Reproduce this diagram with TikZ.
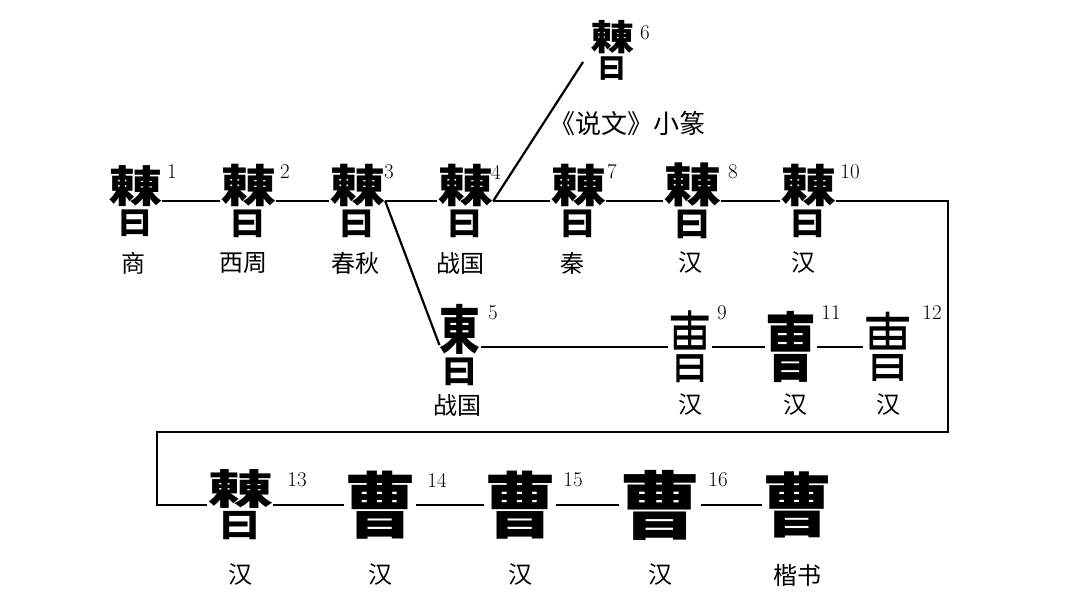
\documentclass[tikz,border=0pt]{standalone}
\usepackage{graphicx}
\usepackage{fontspec}
\newfontfamily\cjk{Noto Sans CJK SC}
\newcommand\twoeast[3]{\fontsize{#1}{#1}\selectfont\shortstack{\scalebox{1}[#2]{㯥}\\\scalebox{0.62}[#3]{曰}}}
\newcommand\oneeast[1]{\fontsize{#1}{#1}\selectfont\shortstack{\scalebox{0.85}[1.1]{東}\\\scalebox{0.72}[0.7]{曰}}}
\tikzset{
  glyph/.style={inner sep=0pt, font=\cjk},
  bglyph/.style={inner sep=0pt, font=\cjk\bfseries},
  num/.style={inner sep=0pt, font=\fontsize{21}{22}\selectfont},
  era/.style={inner sep=0pt, font=\cjk\fontsize{24}{26}\selectfont},
  link/.style={line width=2.2pt}
}
\begin{document}
\begin{tikzpicture}[x=1pt,y=-1pt]
\useasboundingbox (0,0) rectangle (1069,607);
\fill[white] (0,0) rectangle (1069,607);
% row 1
\node[bglyph] (g1) at (135,201) {\twoeast{54}{0.8}{0.6}};
\node[bglyph] (g2) at (248,201) {\twoeast{56}{0.8}{0.6}};
\node[bglyph] (g3) at (357,201) {\twoeast{56}{0.8}{0.6}};
\node[bglyph] (g4) at (465,201) {\twoeast{56}{0.8}{0.6}};
\node[bglyph] (g7) at (578,201) {\twoeast{56}{0.8}{0.6}};
\node[bglyph] (g8) at (692,201) {\twoeast{58}{0.8}{0.6}};
\node[bglyph] (g10) at (808,201) {\twoeast{56}{0.8}{0.6}};
\node[bglyph] (g6) at (612,50) {\twoeast{44}{0.8}{0.65}};
\node[num] (n1) at (172,172) {1};
\node[num] (n2) at (285,172) {2};
\node[num] (n3) at (389,172) {3};
\node[num] (n4) at (496,172) {4};
\node[num] (n7) at (612,172) {7};
\node[num] (n8) at (733,172) {8};
\node[num] (n10) at (850,172) {10};
\node[num] (n6) at (645,33) {6};
\node[era] (e1) at (133,263) {商};
\node[era] (e2) at (243,263) {西周};
\node[era] (e3) at (355,263) {春秋};
\node[era] (e4) at (460,263) {战国};
\node[era] (e7) at (572,263) {秦};
\node[era] (e8) at (690,263) {汉};
\node[era] (e10) at (803,263) {汉};
\node[era, font=\cjk\fontsize{26}{28}\selectfont] (e6) at (627,123) {《说文》小篆};
% row 2
\node[bglyph] (g5) at (460,345) {\oneeast{48}};
\node[glyph] (g9) at (690,347) {\fontsize{58}{58}\selectfont\scalebox{0.75}[1.35]{曺}};
\node[bglyph] (g11) at (791,347) {\fontsize{60}{60}\selectfont\scalebox{0.85}[1.25]{曺}};
\node[glyph] (g12) at (888,347) {\fontsize{58}{58}\selectfont\scalebox{0.85}[1.3]{曺}};
\node[num] (n5) at (493,313) {5};
\node[num] (n9) at (722,313) {9};
\node[num] (n11) at (831,313) {11};
\node[num] (n12) at (932,313) {12};
\node[era] (e5) at (457,405) {战国};
\node[era] (e9) at (690,405) {汉};
\node[era] (e11) at (795,405) {汉};
\node[era] (e12) at (888,405) {汉};
% row 3
\node[bglyph] (g13) at (240,505) {\twoeast{66}{0.62}{0.52}};
\node[bglyph] (g14) at (380,505) {\fontsize{72}{72}\selectfont 曹};
\node[bglyph] (g15) at (520,505) {\fontsize{72}{72}\selectfont 曹};
\node[bglyph] (g16) at (660,505) {\fontsize{74}{74}\selectfont\scalebox{1.1}[1]{曹}};
\node[bglyph] (g17) at (797,505) {\fontsize{70}{70}\selectfont 曹};
\node[num] (n13) at (297,480) {13};
\node[num] (n14) at (437,480) {14};
\node[num] (n15) at (573,480) {15};
\node[num] (n16) at (718,480) {16};
\node[era] (e13) at (240,575) {汉};
\node[era] (e14) at (380,575) {汉};
\node[era] (e15) at (520,575) {汉};
\node[era] (e16) at (660,575) {汉};
\node[era] (e17) at (797,575) {楷书};
% connectors
\coordinate (c6) at (583,62);
\coordinate (r2) at (948,432);
\coordinate (l2) at (157,505);
\draw[link] (g1.east) -- (g2.west);
\draw[link] (g2.east) -- (g3.west);
\draw[link] (g3.east) -- (g4.west);
\draw[link] (g4.east) -- (g7.west);
\draw[link] (g7.east) -- (g8.west);
\draw[link] (g8.east) -- (g10.west);
\draw[link] (g4.east) -- (c6);
\draw[link] (g3.east) -- (g5.west);
\draw[link] (g5.east |- g9.west) -- (g9.west);
\draw[link] (g9.east) -- (g11.west);
\draw[link] (g11.east) -- (g12.west);
\draw[link] (g10.east) -| (r2) -| (l2) -- (g13.west);
\draw[link] (g13.east) -- (g14.west);
\draw[link] (g14.east) -- (g15.west);
\draw[link] (g15.east) -- (g16.west);
\draw[link] (g16.east) -- (g17.west);
\end{tikzpicture}
\end{document}
